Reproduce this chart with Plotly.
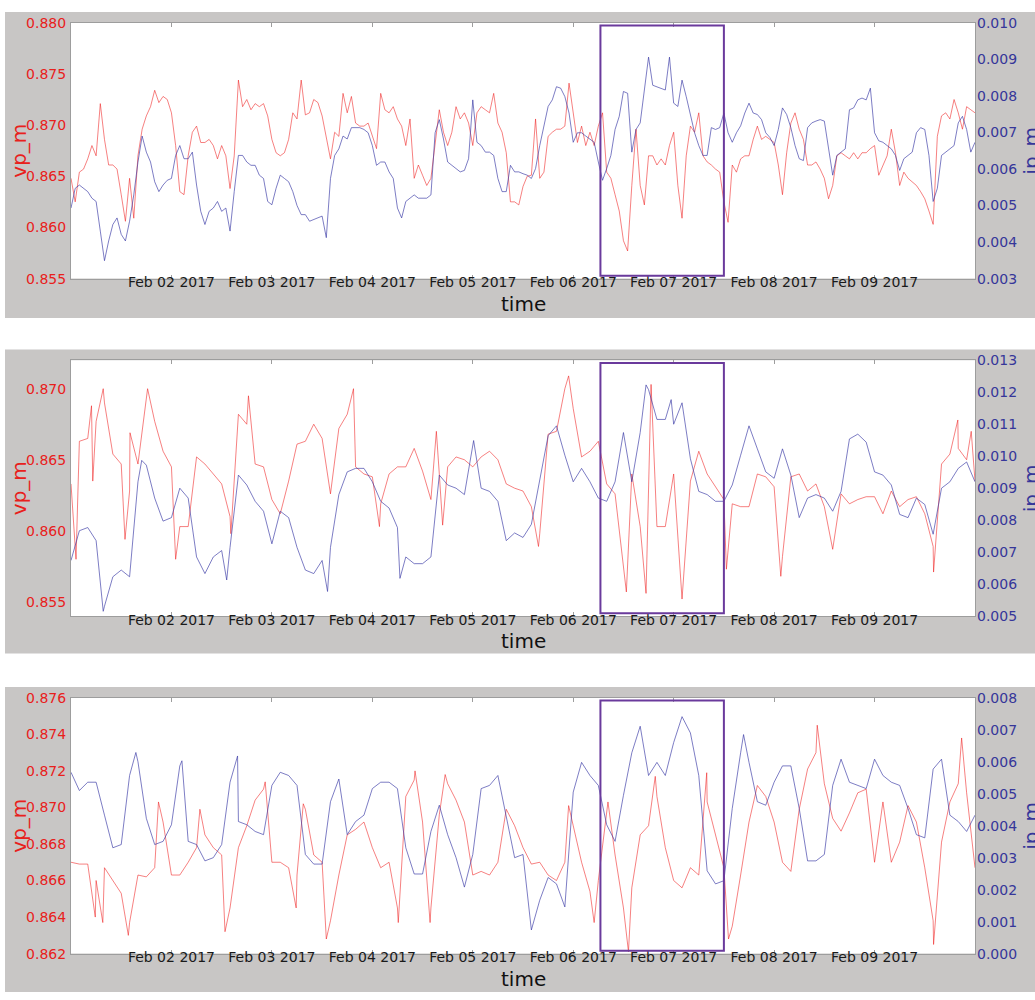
import pandas as pd
import plotly.graph_objects as go

# ---- data ----
START = pd.Timestamp("2017-02-01 00:00")
# panel 1: hourly samples, panels 2 and 3: 2-hour samples plus extra readings at spikes/dips
times_1h = pd.date_range("2017-02-01 00:00", "2017-02-10 00:00", freq="1h")
times_2h = pd.date_range("2017-02-01 00:00", "2017-02-10 00:00", freq="2h")

tick_dates = ["2017-02-02", "2017-02-03", "2017-02-04", "2017-02-05",
              "2017-02-06", "2017-02-07", "2017-02-08", "2017-02-09"]
tick_labels = ["Feb 02 2017", "Feb 03 2017", "Feb 04 2017", "Feb 05 2017",
               "Feb 06 2017", "Feb 07 2017", "Feb 08 2017", "Feb 09 2017"]

vp_1 = [0.8648, 0.8625, 0.8654, 0.8657, 0.8667, 0.8680, 0.8670, 0.8721, 0.8686, 0.8661,
        0.8661, 0.8657, 0.8632, 0.8606, 0.8648, 0.8609, 0.8670, 0.8696, 0.8709, 0.8718,
        0.8734, 0.8722, 0.8728, 0.8725, 0.8712, 0.8680, 0.8635, 0.8632, 0.8670, 0.8693,
        0.8699, 0.8683, 0.8683, 0.8686, 0.8680, 0.8667, 0.8680, 0.8670, 0.8638, 0.8670,
        0.8744, 0.8718, 0.8725, 0.8715, 0.8721, 0.8718, 0.8721, 0.8709, 0.8686, 0.8673,
        0.8670, 0.8673, 0.8686, 0.8712, 0.8706, 0.8744, 0.8710, 0.8712, 0.8725, 0.8722,
        0.8709, 0.8689, 0.8667, 0.8693, 0.8689, 0.8731, 0.8712, 0.8728, 0.8702, 0.8699,
        0.8699, 0.8702, 0.8689, 0.8677, 0.8731, 0.8715, 0.8712, 0.8718, 0.8706, 0.8699,
        0.8680, 0.8706, 0.8648, 0.8661, 0.8651, 0.8641, 0.8648, 0.8680, 0.8715, 0.8693,
        0.8680, 0.8693, 0.8718, 0.8706, 0.8712, 0.8702, 0.8680, 0.8712, 0.8718, 0.8715,
        0.8712, 0.8731, 0.8702, 0.8693, 0.8673, 0.8625, 0.8625, 0.8622, 0.8640, 0.8650,
        0.8651, 0.8706, 0.8648, 0.8654, 0.8689, 0.8693, 0.8696, 0.8696, 0.8699, 0.8741,
        0.8712, 0.8683, 0.8699, 0.8680, 0.8693, 0.8680, 0.8699, 0.8712, 0.8654, 0.8648,
        0.8632, 0.8616, 0.8587, 0.8577, 0.8641, 0.8696, 0.8641, 0.8622, 0.8670, 0.8670,
        0.8661, 0.8667, 0.8661, 0.8680, 0.8693, 0.8641, 0.8609, 0.8670, 0.8699, 0.8693,
        0.8712, 0.8670, 0.8664, 0.8661, 0.8657, 0.8654, 0.8625, 0.8605, 0.8661, 0.8654,
        0.8667, 0.8670, 0.8670, 0.8686, 0.8699, 0.8686, 0.8689, 0.8686, 0.8683, 0.8661,
        0.8632, 0.8673, 0.8702, 0.8712, 0.8696, 0.8686, 0.8661, 0.8661, 0.8664, 0.8657,
        0.8648, 0.8628, 0.8641, 0.8670, 0.8673, 0.8670, 0.8667, 0.8673, 0.8667, 0.8673,
        0.8673, 0.8677, 0.8680, 0.8651, 0.8661, 0.8670, 0.8696, 0.8673, 0.8641, 0.8654,
        0.8648, 0.8644, 0.8641, 0.8635, 0.8628, 0.8616, 0.8603, 0.8689, 0.8709, 0.8712,
        0.8706, 0.8725, 0.8712, 0.8696, 0.8718, 0.8715, 0.8712]
ip_1 = [0.00493, 0.00547, 0.00556, 0.00547, 0.00538, 0.00520, 0.00511, 0.00430, 0.00349, 0.00403,
        0.00448, 0.00466, 0.00421, 0.00403, 0.00457, 0.00529, 0.00619, 0.00690, 0.00646, 0.00619,
        0.00565, 0.00538, 0.00556, 0.00569, 0.00574, 0.00637, 0.00664, 0.00628, 0.00628, 0.00646,
        0.00556, 0.00484, 0.00448, 0.00484, 0.00493, 0.00511, 0.00484, 0.00493, 0.00430, 0.00538,
        0.00637, 0.00637, 0.00619, 0.00610, 0.00610, 0.00583, 0.00574, 0.00511, 0.00502, 0.00547,
        0.00583, 0.00574, 0.00565, 0.00538, 0.00500, 0.00475, 0.00475, 0.00457, 0.00462, 0.00466,
        0.00471, 0.00412, 0.00574, 0.00637, 0.00655, 0.00690, 0.00682, 0.00713, 0.00713, 0.00713,
        0.00708, 0.00699, 0.00664, 0.00610, 0.00619, 0.00619, 0.00592, 0.00574, 0.00493, 0.00466,
        0.00511, 0.00520, 0.00529, 0.00520, 0.00520, 0.00520, 0.00529, 0.00699, 0.00735, 0.00682,
        0.00619, 0.00610, 0.00601, 0.00592, 0.00596, 0.00628, 0.00789, 0.00673, 0.00664, 0.00646,
        0.00646, 0.00637, 0.00574, 0.00538, 0.00538, 0.00610, 0.00592, 0.00592, 0.00587, 0.00583,
        0.00574, 0.00601, 0.00664, 0.00718, 0.00771, 0.00789, 0.00825, 0.00821, 0.00798, 0.00753,
        0.00673, 0.00699, 0.00699, 0.00690, 0.00682, 0.00673, 0.00619, 0.00569, 0.00601, 0.00637,
        0.00708, 0.00744, 0.00812, 0.00807, 0.00646, 0.00708, 0.00726, 0.00816, 0.00906, 0.00829,
        0.00825, 0.00821, 0.00816, 0.00906, 0.00780, 0.00771, 0.00843, 0.00798, 0.00744, 0.00699,
        0.00664, 0.00637, 0.00637, 0.00713, 0.00708, 0.00713, 0.00753, 0.00699, 0.00673, 0.00699,
        0.00718, 0.00753, 0.00780, 0.00753, 0.00749, 0.00735, 0.00699, 0.00686, 0.00664, 0.00708,
        0.00767, 0.00749, 0.00713, 0.00664, 0.00628, 0.00623, 0.00713, 0.00726, 0.00731, 0.00735,
        0.00731, 0.00655, 0.00583, 0.00637, 0.00646, 0.00655, 0.00762, 0.00767, 0.00789, 0.00794,
        0.00789, 0.00821, 0.00699, 0.00677, 0.00673, 0.00664, 0.00655, 0.00637, 0.00596, 0.00628,
        0.00637, 0.00646, 0.00699, 0.00713, 0.00708, 0.00637, 0.00511, 0.00547, 0.00637, 0.00646,
        0.00655, 0.00664, 0.00726, 0.00744, 0.00708, 0.00646, 0.00673]

vp_2 = [0.8633, 0.8663, 0.8665, 0.8677, 0.8690, 0.8654, 0.8647, 0.8628, 0.8647, 0.8690,
        0.8677, 0.8656, 0.8645, 0.8603, 0.8603, 0.8652, 0.8647, 0.8640, 0.8633, 0.8610,
        0.8682, 0.8675, 0.8647, 0.8645, 0.8622, 0.8612, 0.8635, 0.8661, 0.8663, 0.8675,
        0.8665, 0.8626, 0.8672, 0.8682, 0.8645, 0.8640, 0.8638, 0.8619, 0.8640, 0.8645,
        0.8645, 0.8658, 0.8642, 0.8622, 0.8640, 0.8645, 0.8652, 0.8650, 0.8645, 0.8652,
        0.8656, 0.8650, 0.8633, 0.8630, 0.8628, 0.8617, 0.8598, 0.8668, 0.8670, 0.8700,
        0.8686, 0.8652, 0.8656, 0.8663, 0.8633, 0.8626, 0.8575, 0.8640, 0.8603, 0.8628,
        0.8603, 0.8603, 0.8640, 0.8552, 0.8635, 0.8656, 0.8640, 0.8631, 0.8622, 0.8619,
        0.8617, 0.8617, 0.8640, 0.8638, 0.8631, 0.8582, 0.8638, 0.8640, 0.8628, 0.8633,
        0.8617, 0.8587, 0.8626, 0.8619, 0.8622, 0.8624, 0.8624, 0.8612, 0.8628, 0.8617,
        0.8622, 0.8624, 0.8612, 0.8589, 0.8647, 0.8654, 0.8658, 0.8650, 0.8635]
vp_2_extra_hours = [1.2, 4.9, 5.2, 7.7, 12.9, 14.1, 18.3, 25.0, 38.2, 42.4, 67.5, 73.7,
                    87.3, 88.8, 111.7, 118.9, 132.7, 137.4, 138.6, 156.6, 169.6, 206.1,
                    211.9, 215.1]
vp_2_extra_values = [0.8580, 0.8688, 0.8635, 0.8700, 0.8594, 0.8669, 0.8700, 0.8580, 0.8598,
                     0.8695, 0.8700, 0.8603, 0.8670, 0.8604, 0.8589, 0.8709, 0.8557, 0.8556,
                     0.8703, 0.8573, 0.8568, 0.8571, 0.8678, 0.8670]
ip_2 = [0.00674, 0.00767, 0.00777, 0.00736, 0.00531, 0.00623, 0.00644, 0.00623, 0.00920, 0.00972,
        0.00869, 0.00797, 0.00808, 0.00900, 0.00869, 0.00685, 0.00633, 0.00685, 0.00705, 0.00715,
        0.00941, 0.00910, 0.00859, 0.00828, 0.00726, 0.00828, 0.00808, 0.00715, 0.00644, 0.00633,
        0.00674, 0.00715, 0.00880, 0.00951, 0.00962, 0.00962, 0.00920, 0.00859, 0.00838, 0.00777,
        0.00685, 0.00664, 0.00664, 0.00685, 0.00941, 0.00910, 0.00900, 0.00880, 0.01044, 0.00900,
        0.00890, 0.00859, 0.00736, 0.00760, 0.00746, 0.00787, 0.00920, 0.01064, 0.01095, 0.01003,
        0.00920, 0.00962, 0.00920, 0.00869, 0.00859, 0.00920, 0.01074, 0.00920, 0.01074, 0.01208,
        0.01115, 0.01115, 0.01100, 0.01167, 0.00992, 0.00890, 0.00880, 0.00859, 0.00859, 0.00910,
        0.01003, 0.01095, 0.01023, 0.00951, 0.00931, 0.01023, 0.00941, 0.00808, 0.00869, 0.00880,
        0.00869, 0.00828, 0.00890, 0.01054, 0.01069, 0.01044, 0.00951, 0.00941, 0.00910, 0.00818,
        0.00808, 0.00869, 0.00849, 0.00756, 0.00900, 0.00920, 0.00962, 0.00982, 0.00920]
ip_2_extra_hours = [7.7, 16.9, 37.2, 61.3, 78.6, 96.2, 137.4, 143.4]
ip_2_extra_values = [0.00515, 0.00987, 0.00613, 0.00577, 0.00618, 0.01049, 0.01223, 0.01177]

vp_3 = [0.8670, 0.8669, 0.8669, 0.8660, 0.8667, 0.8660, 0.8653, 0.8637, 0.8663, 0.8662,
        0.8667, 0.8692, 0.8663, 0.8663, 0.8670, 0.8678, 0.8685, 0.8678, 0.8674, 0.8645,
        0.8678, 0.8690, 0.8704, 0.8710, 0.8670, 0.8670, 0.8667, 0.8663, 0.8699, 0.8674,
        0.8670, 0.8638, 0.8663, 0.8685, 0.8688, 0.8692, 0.8678, 0.8667, 0.8670, 0.8645,
        0.8706, 0.8715, 0.8692, 0.8645, 0.8696, 0.8713, 0.8704, 0.8692, 0.8663, 0.8665,
        0.8663, 0.8670, 0.8699, 0.8690, 0.8678, 0.8669, 0.8670, 0.8663, 0.8660, 0.8670,
        0.8690, 0.8670, 0.8654, 0.8660, 0.8696, 0.8674, 0.8645, 0.8656, 0.8685, 0.8690,
        0.8706, 0.8678, 0.8660, 0.8656, 0.8667, 0.8663, 0.8703, 0.8685, 0.8667, 0.8635,
        0.8663, 0.8692, 0.8712, 0.8706, 0.8692, 0.8670, 0.8665, 0.8699, 0.8721, 0.8730,
        0.8713, 0.8694, 0.8687, 0.8697, 0.8708, 0.8710, 0.8670, 0.8703, 0.8670, 0.8681,
        0.8701, 0.8692, 0.8667, 0.8638, 0.8681, 0.8703, 0.8713, 0.8708, 0.8667]
vp_3_extra_hours = [5.8, 7.6, 13.7, 20.9, 30.8, 36.8, 46.4, 53.8, 55.5, 61.0, 78.2, 82.2,
                    85.8, 89.4, 118.9, 125.0, 128.3, 133.2, 139.6, 151.9, 157.1, 178.3,
                    206.1, 212.8]
vp_3_extra_values = [0.8640, 0.8637, 0.8630, 0.8703, 0.8699, 0.8632, 0.8714, 0.8645, 0.8702,
                     0.8628, 0.8637, 0.8720, 0.8637, 0.8718, 0.8701, 0.8637, 0.8703, 0.8621,
                     0.8717, 0.8719, 0.8628, 0.8745, 0.8625, 0.8738]
ip_3 = [0.00567, 0.00510, 0.00536, 0.00536, 0.00433, 0.00331, 0.00341, 0.00557, 0.00600, 0.00423,
        0.00341, 0.00351, 0.00403, 0.00587, 0.00351, 0.00341, 0.00290, 0.00300, 0.00341, 0.00536,
        0.00413, 0.00403, 0.00382, 0.00372, 0.00526, 0.00567, 0.00557, 0.00526, 0.00310, 0.00280,
        0.00280, 0.00475, 0.00546, 0.00372, 0.00413, 0.00433, 0.00516, 0.00536, 0.00536, 0.00516,
        0.00331, 0.00249, 0.00249, 0.00382, 0.00464, 0.00372, 0.00300, 0.00208, 0.00310, 0.00516,
        0.00526, 0.00557, 0.00433, 0.00300, 0.00310, 0.00074, 0.00167, 0.00238, 0.00218, 0.00146,
        0.00505, 0.00598, 0.00557, 0.00526, 0.00403, 0.00351, 0.00495, 0.00628, 0.00711, 0.00557,
        0.00598, 0.00557, 0.00660, 0.00741, 0.00690, 0.00557, 0.00259, 0.00218, 0.00228, 0.00454,
        0.00628, 0.00598, 0.00475, 0.00464, 0.00536, 0.00587, 0.00587, 0.00454, 0.00290, 0.00290,
        0.00310, 0.00526, 0.00608, 0.00536, 0.00526, 0.00516, 0.00608, 0.00557, 0.00536, 0.00526,
        0.00454, 0.00372, 0.00362, 0.00577, 0.00608, 0.00433, 0.00413, 0.00382, 0.00433]
ip_3_extra_hours = [15.5, 26.5, 39.8, 160.7]
ip_3_extra_values = [0.00629, 0.00603, 0.00618, 0.00685]

highlight_start = "2017-02-06 06:30"
highlight_end = "2017-02-07 12:00"


def merged(base_times, base_values, extra_hours=(), extra_values=()):
    s = pd.Series(list(base_values), index=base_times)
    if len(extra_hours):
        e = pd.Series(list(extra_values),
                      index=START + pd.to_timedelta(list(extra_hours), unit="h"))
        s = pd.concat([s, e]).sort_index()
    return s.index, s.values


panels = [
    dict(vp=merged(times_1h, vp_1), ip=merged(times_1h, ip_1),
         vp_range=[0.855, 0.880], vp_tick0=0.855, vp_dtick=0.005,
         ip_range=[0.003, 0.010], ip_tick0=0.003, ip_dtick=0.001),
    dict(vp=merged(times_2h, vp_2, vp_2_extra_hours, vp_2_extra_values),
         ip=merged(times_2h, ip_2, ip_2_extra_hours, ip_2_extra_values),
         vp_range=[0.854, 0.872], vp_tick0=0.855, vp_dtick=0.005,
         ip_range=[0.005, 0.013], ip_tick0=0.005, ip_dtick=0.001),
    dict(vp=merged(times_2h, vp_3, vp_3_extra_hours, vp_3_extra_values),
         ip=merged(times_2h, ip_3, ip_3_extra_hours, ip_3_extra_values),
         vp_range=[0.862, 0.876], vp_tick0=0.862, vp_dtick=0.002,
         ip_range=[0.000, 0.008], ip_tick0=0.000, ip_dtick=0.001),
]

# ---- layout geometry (pixels on a 1035x1000 canvas) ----
W, H = 1035, 1000
plot_left, plot_right = 71, 975
plot_tops = [15, 358, 701]
plot_h = 260
bg_boxes = [(5, 4, 315), (5, 347, 656), (5, 690, 1000)]
time_label_y = [301, 643, 987]

FONT = "DejaVu Sans"
RED_TXT = "#e8201c"
BLUE_TXT = "#36369a"
RED_LINE = "rgba(238,25,25,0.55)"
BLUE_LINE = "rgba(55,55,165,0.65)"
FRAME = "#9d9d9d"
BG_GRAY = "#c8c6c5"
RECT = "#6a3a9c"

fig = go.Figure()
layout = dict(
    width=W, height=H, margin=dict(l=0, r=0, t=0, b=0), autosize=False,
    paper_bgcolor="white", plot_bgcolor="white", showlegend=False,
    font=dict(family=FONT, size=14, color="#222"),
)
shapes = []
annotations = []


def px_x(x):
    return x / W


def px_y(y):
    return 1 - y / H


for i, p in enumerate(panels):
    n = i + 1
    xa = "x" if n == 1 else f"x{n}"
    ya_l = f"y{2*n-1}" if n > 1 else "y"
    ya_r = f"y{2*n}"
    xkey = "xaxis" if n == 1 else f"xaxis{n}"
    ylkey = "yaxis" if n == 1 else f"yaxis{2*n-1}"
    yrkey = f"yaxis{2*n}"
    top = plot_tops[i]
    dom = [px_y(top + plot_h), px_y(top)]

    fig.add_trace(go.Scatter(x=p["vp"][0], y=p["vp"][1], mode="lines", xaxis=xa, yaxis=ya_l,
                             line=dict(color=RED_LINE, width=1), hoverinfo="skip"))
    fig.add_trace(go.Scatter(x=p["ip"][0], y=p["ip"][1], mode="lines", xaxis=xa, yaxis=ya_r,
                             line=dict(color=BLUE_LINE, width=1), hoverinfo="skip"))

    layout[xkey] = dict(
        domain=[px_x(plot_left), px_x(plot_right)], anchor=ya_l,
        range=["2017-02-01 00:00", "2017-02-10 00:00"],
        tickmode="array", tickvals=tick_dates, ticktext=tick_labels,
        tickfont=dict(size=14, color="#1a1a1a", family=FONT),
        showgrid=False, zeroline=False, showline=True, linecolor=FRAME, linewidth=1,
        mirror="ticks", ticks="inside", ticklen=4, tickcolor=FRAME,
        ticklabelstandoff=-9,
    )
    layout[ylkey] = dict(
        domain=dom, anchor=xa, range=p["vp_range"], tick0=p["vp_tick0"], dtick=p["vp_dtick"],
        tickformat=".3f", tickfont=dict(size=14, color=RED_TXT, family=FONT),
        showgrid=False, zeroline=False, showline=True, linecolor=FRAME, linewidth=1,
        mirror=True, ticks="", ticklabelstandoff=1,
    )
    layout[yrkey] = dict(
        overlaying=ya_l, side="right", anchor=xa, range=p["ip_range"],
        tick0=p["ip_tick0"], dtick=p["ip_dtick"], tickformat=".3f",
        tickfont=dict(size=14, color=BLUE_TXT, family=FONT),
        showgrid=False, zeroline=False, showline=False, ticks="", ticklabelstandoff=1,
    )

    bx0, by0, by1 = bg_boxes[i]
    shapes.append(dict(type="rect", xref="paper", yref="paper", layer="below",
                       x0=px_x(bx0), x1=1.0, y0=px_y(by1), y1=px_y(by0),
                       fillcolor=BG_GRAY, line=dict(width=0)))
    shapes.append(dict(type="rect", xref="paper", yref="paper", layer="below",
                       x0=px_x(plot_left), x1=px_x(plot_right), y0=dom[0], y1=dom[1],
                       fillcolor="white", line=dict(width=0)))
    shapes.append(dict(type="rect", xref=xa, yref=f"{ya_l} domain", layer="above",
                       x0=highlight_start, x1=highlight_end, y0=0.011, y1=0.989,
                       fillcolor="rgba(0,0,0,0)", line=dict(color=RECT, width=2)))

    mid = top + plot_h / 2
    annotations.append(dict(text="vp_m", xref="paper", yref="paper", x=px_x(19), y=px_y(mid),
                            showarrow=False, textangle=-90, xanchor="center", yanchor="middle",
                            font=dict(size=20, color=RED_TXT, family=FONT)))
    annotations.append(dict(text="ip_m", xref="paper", yref="paper", x=px_x(1031), y=px_y(mid),
                            showarrow=False, textangle=-90, xanchor="center", yanchor="middle",
                            font=dict(size=20, color=BLUE_TXT, family=FONT)))
    annotations.append(dict(text="time", xref="paper", yref="paper",
                            x=px_x((plot_left + plot_right) / 2), y=px_y(time_label_y[i]),
                            showarrow=False, xanchor="center", yanchor="middle",
                            font=dict(size=20, color="#111", family=FONT)))

layout["shapes"] = shapes
layout["annotations"] = annotations
fig.update_layout(**layout)
fig.write_html(
    "out.html",
    config={"displayModeBar": False},
    post_script="document.body.style.margin='0';document.body.style.overflow='hidden';",
)
